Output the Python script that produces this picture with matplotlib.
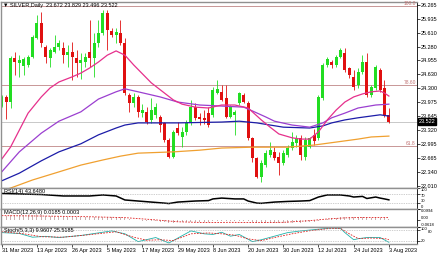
import numpy as np
import matplotlib.pyplot as plt
from matplotlib.transforms import blended_transform_factory, ScaledTranslation

# Tagesdaten SILVER (Kerzen), Index 0 = 31 Mar 2023
opens = [23.89, 24.10, 23.98, 25.01, 24.90, 24.83, 24.85, 25.04, 25.48, 25.84,
         25.27, 25.01, 25.15, 25.27, 25.25, 25.08, 25.15, 25.01, 24.90, 24.92,
         25.15, 25.01, 25.37, 25.60, 26.07, 25.65, 25.55, 25.60, 25.37, 24.14,
         23.96, 24.10, 23.72, 23.75, 23.56, 23.68, 23.63, 23.49, 23.09, 22.69,
         23.37, 23.16, 23.28, 23.49, 23.86, 23.63, 23.61, 23.72, 23.68, 24.19,
         24.22, 24.08, 23.63, 23.68, 23.96, 24.14, 23.96, 23.14, 22.67, 22.22,
         22.50, 22.74, 22.81, 22.69, 22.55, 22.74, 22.90, 23.02, 23.14, 22.69,
         22.92, 23.20, 23.14, 24.08, 24.85, 24.92, 24.85, 25.04, 25.13, 24.78,
         24.57, 24.38, 24.69, 24.92, 24.14, 24.31, 24.73, 24.31, 23.672]
highs = [24.14, 24.14, 25.06, 25.16, 25.08, 25.04, 25.08, 25.55, 26.02, 26.09,
         25.32, 25.25, 25.55, 25.44, 25.39, 25.32, 25.39, 25.20, 25.13, 25.13,
         25.91, 25.60, 25.91, 26.14, 26.14, 25.72, 25.72, 25.91, 25.48, 24.19,
         24.19, 24.14, 23.93, 23.86, 24.07, 23.96, 23.68, 23.51, 23.14, 23.32,
         23.51, 23.39, 23.56, 24.03, 23.96, 23.72, 23.79, 23.86, 24.33, 24.50,
         24.38, 24.38, 23.91, 23.79, 24.22, 24.19, 24.00, 23.16, 22.69, 22.62,
         22.85, 23.04, 22.92, 22.81, 22.85, 22.97, 23.28, 23.21, 23.21, 23.16,
         23.16, 23.35, 24.14, 24.90, 25.04, 24.97, 25.08, 25.25, 25.25, 24.80,
         24.73, 24.78, 25.08, 25.13, 24.38, 24.85, 24.78, 24.50, 23.829]
lows = [23.86, 23.58, 23.84, 24.61, 24.57, 24.61, 24.80, 25.01, 25.46, 25.27,
        24.90, 24.80, 25.13, 25.20, 24.90, 24.80, 24.50, 24.57, 24.52, 24.80,
        24.80, 24.57, 25.27, 25.55, 25.20, 25.51, 25.37, 25.32, 24.14, 23.75,
        23.86, 23.63, 23.63, 23.46, 23.49, 23.61, 23.28, 23.04, 22.67, 22.67,
        23.21, 22.92, 23.21, 23.44, 23.56, 23.44, 23.46, 23.39, 23.63, 24.17,
        24.00, 23.61, 23.61, 23.21, 23.91, 23.96, 23.09, 22.57, 22.20, 22.10,
        22.45, 22.69, 22.62, 22.27, 22.50, 22.69, 22.85, 22.92, 22.62, 22.62,
        22.90, 22.98, 23.09, 24.03, 24.80, 24.78, 24.80, 25.01, 24.69, 24.54,
        24.26, 24.31, 24.64, 24.10, 24.10, 24.26, 24.22, 23.63, 23.496]
closes = [24.10, 23.98, 25.01, 24.92, 24.97, 24.99, 25.04, 25.51, 25.84, 25.37,
          25.04, 25.20, 25.27, 25.37, 25.08, 25.15, 25.04, 24.90, 24.97, 25.04,
          25.01, 25.37, 25.60, 26.07, 25.67, 25.55, 25.62, 25.37, 24.19, 23.96,
          24.10, 23.75, 23.79, 23.51, 23.79, 23.86, 23.44, 23.09, 22.69, 23.28,
          23.25, 23.28, 23.49, 23.86, 23.61, 23.58, 23.56, 23.44, 24.26, 24.29,
          24.03, 23.63, 23.86, 23.75, 24.19, 23.98, 23.14, 22.67, 22.22, 22.55,
          22.78, 22.85, 22.67, 22.55, 22.78, 22.90, 23.04, 23.14, 22.74, 23.09,
          23.14, 23.07, 24.10, 24.85, 24.99, 24.85, 25.04, 25.20, 24.73, 24.61,
          24.33, 24.69, 24.92, 24.14, 24.33, 24.80, 24.26, 23.672, 23.522]

date_idx = [0, 8, 16, 24, 32, 40, 48, 56, 64, 72, 80, 88]
date_labels = ['31 Mar 2023', '13 Apr 2023', '26 Apr 2023', '5 May 2023', '17 May 2023',
               '29 May 2023', '8 Jun 2023', '20 Jun 2023', '30 Jun 2023', '12 Jul 2023',
               '24 Jul 2023', '3 Aug 2023']

# gleitende Durchschnitte
ma_pink_x = [0, 2, 4, 6, 9, 11, 13, 16, 18, 20, 22, 24, 26, 28, 30, 32, 34, 37, 39, 41,
             44, 47, 50, 53, 56, 59, 61, 63, 66, 68, 70, 72, 74, 76, 78, 80, 82, 84, 86, 87, 88]
ma_pink = [22.64, 22.92, 23.32, 23.72, 24.10, 24.31, 24.45, 24.57, 24.66, 24.78, 24.92,
           25.08, 25.18, 25.08, 24.85, 24.64, 24.43, 24.19, 24.03, 23.93, 23.86, 23.84,
           23.91, 23.91, 23.84, 23.56, 23.39, 23.23, 23.14, 23.11, 23.11, 23.28, 23.56,
           23.79, 23.98, 24.10, 24.17, 24.22, 24.24, 24.19, 24.12]
ma_purple_x = [0, 4, 9, 13, 18, 22, 26, 28, 31, 36, 40, 45, 49, 55, 57, 60, 62, 66, 70,
               73, 75, 78, 81, 85, 88]
ma_purple = [22.34, 22.81, 23.25, 23.53, 23.75, 24.05, 24.22, 24.29, 24.22, 24.10, 23.98,
             23.91, 23.89, 23.86, 23.77, 23.63, 23.53, 23.44, 23.39, 23.49, 23.61, 23.72,
             23.84, 23.91, 23.93]
ma_blue_x = [0, 4, 9, 13, 18, 22, 26, 28, 31, 40, 50, 54, 58, 64, 70, 73, 75, 78, 81, 86, 88]
ma_blue = [22.13, 22.31, 22.60, 22.81, 23.00, 23.21, 23.37, 23.44, 23.49, 23.49, 23.51,
           23.53, 23.49, 23.39, 23.37, 23.42, 23.49, 23.56, 23.61, 23.68, 23.65]
ma_orange_x = [0, 2, 7, 13, 18, 23, 27, 31, 39, 45, 50, 57, 65, 71, 76, 81, 84, 88]
ma_orange = [21.89, 21.96, 22.15, 22.34, 22.50, 22.62, 22.71, 22.78, 22.81, 22.85, 22.90,
             22.92, 22.92, 22.97, 23.04, 23.11, 23.16, 23.18]

fib_levels = [26.23, 24.37, 22.95]
fib_labels = ['100.0', '78.60', '61.8']
price_ticks = [26.265, 25.935, 25.610, 25.280, 24.955, 24.630, 24.300, 23.975,
               23.645, 23.320, 22.995, 22.665, 22.340, 22.010]
bid = 23.522

# RSI(14)
rsi_x = [0, 5, 9, 14, 20, 23, 26, 28, 31, 34, 37, 38, 40, 44, 47, 48, 50, 53, 55, 56,
         58, 59, 62, 65, 68, 70, 72, 74, 77, 79, 80, 82, 83, 85, 86, 87, 88]
rsi = [74, 71, 69, 62, 62, 67, 62, 43, 38, 33, 28, 26, 33, 38, 40, 48, 52, 48, 48, 38,
       28, 27, 33, 36, 38, 40, 57, 67, 67, 62, 57, 60, 50, 57, 52, 48, 43.6]

# MACD(12,26,9)
macd_hist = [0.042, 0.040, 0.044, 0.045, 0.044, 0.043, 0.042, 0.043, 0.045, 0.044,
             0.040, 0.038, 0.037, 0.036, 0.034, 0.032, 0.030, 0.028, 0.026, 0.025,
             0.026, 0.027, 0.029, 0.032, 0.031, 0.030, 0.029, 0.027, 0.018, 0.010,
             0.005, 0.000, -0.004, -0.008, -0.010, -0.012, -0.015, -0.019, -0.024, -0.022,
             -0.021, -0.021, -0.020, -0.017, -0.016, -0.016, -0.016, -0.017, -0.012, -0.008,
             -0.007, -0.009, -0.009, -0.010, -0.007, -0.006, -0.012, -0.018, -0.025, -0.028,
             -0.029, -0.029, -0.029, -0.030, -0.029, -0.027, -0.024, -0.021, -0.022, -0.020,
             -0.018, -0.017, -0.008, 0.002, 0.010, 0.015, 0.020, 0.025, 0.026, 0.026,
             0.025, 0.026, 0.028, 0.024, 0.023, 0.025, 0.023, 0.017, 0.012]
macd_sig_x = [0, 10, 20, 28, 34, 40, 46, 52, 58, 64, 70, 74, 78, 82, 86, 88]
macd_sig = [0.040, 0.036, 0.030, 0.022, 0.005, -0.015, -0.022, -0.020, -0.022, -0.020,
            -0.005, 0.010, 0.020, 0.024, 0.024, 0.022]

# Stochastik(5,3,3)
stoch_x = [0, 4, 7, 10, 13, 18, 25, 28, 31, 35, 38, 43, 46, 48, 50, 52, 54, 57, 59, 62,
           65, 68, 72, 75, 77, 78, 80, 81, 83, 86, 88]
stoch_main = [67, 62, 40, 45, 38, 50, 77, 60, 14, 38, 6, 77, 60, 56, 69, 46, 56, 14, 25,
              46, 67, 77, 87, 94, 92, 67, 25, 31, 38, 38, 10]
stoch_sig_x = [0, 5, 9, 14, 20, 26, 30, 33, 36, 39, 43, 47, 50, 53, 56, 59, 62, 66, 70,
               74, 77, 79, 81, 84, 87, 88]
stoch_sig = [72, 60, 43, 40, 55, 72, 40, 22, 25, 20, 60, 65, 60, 52, 30, 20, 38, 60, 78,
             90, 92, 60, 32, 35, 32, 25.5]

plt.rcParams['font.family'] = ['Liberation Sans', 'DejaVu Sans']

W, H = 440, 254
fig = plt.figure(figsize=(W / 100, H / 100), dpi=100)


def panel(y0, y1, lsize=4):
    ax = fig.add_axes([1 / W, 1 - y1 / H, 416 / W, (y1 - y0) / H])
    for s in ['left', 'top', 'bottom']:
        ax.spines[s].set_color('#909090')
        ax.spines[s].set_linewidth(1.0)
    ax.spines['right'].set_color('black')
    ax.spines['right'].set_linewidth(0.6)
    ax.yaxis.tick_right()
    ax.tick_params(axis='y', length=2, width=0.5, labelsize=lsize, pad=1)
    ax.set_xlim(-0.16, 94.39)
    ax.set_xticks([])
    return ax


main = panel(2, 188)
rsi_ax = panel(188, 209, 3)
macd_ax = panel(209, 227, 3)
stoch_ax = panel(227, 244, 3)

# Kerzen
idx = np.arange(len(closes))
o = np.array(opens)
c = np.array(closes)
up = c >= o
col = np.where(up, '#22dd22', '#e01010')
main.vlines(idx, lows, highs, colors=col, linewidth=0.6)
body_h = np.maximum(np.abs(c - o), 0.015)
main.bar(idx, body_h, bottom=np.minimum(o, c), width=0.7, color=col, linewidth=0)

main.plot(ma_orange_x, ma_orange, color='#f0a030', lw=0.9)
main.plot(ma_blue_x, ma_blue, color='#1c1ca8', lw=0.9)
main.plot(ma_purple_x, ma_purple, color='#9b3fd0', lw=0.9)
main.plot(ma_pink_x, ma_pink, color='#e6308c', lw=0.9)

tr = blended_transform_factory(main.transAxes, main.transData)
for lv, lb in zip(fib_levels, fib_labels):
    main.axhline(lv, color='#c89696', lw=0.7, zorder=0)
    main.text(0.997, lv, lb, transform=tr, ha='right', va='bottom', fontsize=3.5, color='#c07070')
main.axhline(bid, color='#c8c8c8', lw=0.7, zorder=0)
main.text(1.004, bid, '%.3f' % bid, transform=tr, ha='left', va='center', fontsize=4,
          color='white', bbox=dict(boxstyle='square,pad=0.15', fc='black', ec='black'), zorder=5)

main.set_ylim(21.962, 26.328)
main.set_yticks(price_ticks)
main.set_yticklabels(['%.3f' % p for p in price_ticks])
main.text(0.006, 0.992, '\u25bc SILVER,Daily  23.672 23.829 23.496 23.522', transform=main.transAxes,
          ha='left', va='top', fontsize=4, color='black')

# RSI
rsi_ax.plot(rsi_x, rsi, color='black', lw=1.1)
for lv in [30, 70]:
    rsi_ax.axhline(lv, color='#a0a0a0', lw=0.5, ls=(0, (1, 1.5)))
rsi_ax.set_ylim(0, 100)
rsi_ax.set_yticks([100, 70, 30, 0])
rsi_ax.set_yticklabels(['100', '70', '30', '0'])
rl = rsi_ax.get_yticklabels()
rl[0].set_va('top')
rl[1].set_va('top')
rl[2].set_va('bottom')
rl[3].set_va('bottom')
rsi_ax.text(0.008, 0.93, 'RSI(14) 43.6480', transform=rsi_ax.transAxes, ha='left', va='top', fontsize=4)

# MACD
macd_ax.bar(idx, macd_hist, width=0.25, color='#c8b0b0', linewidth=0)
macd_ax.plot(macd_sig_x, macd_sig, color='#e02020', lw=0.6, ls=(0, (2, 1.5)))
macd_ax.set_ylim(-0.0618, 0.0994)
macd_ax.set_yticks([0.0994, 0.0, -0.0618])
macd_ax.set_yticklabels(['0.0994', '0.00', '-0.0618'])
ml = macd_ax.get_yticklabels()
ml[0].set_va('top')
ml[1].set_va('bottom')
ml[2].set_va('bottom')
macd_ax.text(0.008, 0.93, 'MACD(12,26,9) 0.0185 0.0003', transform=macd_ax.transAxes,
             ha='left', va='top', fontsize=4)

# Stochastik
stoch_ax.plot(stoch_x, stoch_main, color='#20b2aa', lw=0.6)
stoch_ax.plot(stoch_sig_x, stoch_sig, color='#e02020', lw=0.6, ls=(0, (2, 1.5)))
for lv in [20, 80]:
    stoch_ax.axhline(lv, color='#a0a0a0', lw=0.5, ls=(0, (1, 1.5)))
stoch_ax.set_ylim(0, 100)
stoch_ax.set_yticks([100, 80, 20])
stoch_ax.set_yticklabels(['100', '80', '20'])
sl = stoch_ax.get_yticklabels()
sl[0].set_va('top')
sl[1].set_va('top')
sl[1].set_transform(sl[1].get_transform() + ScaledTranslation(0.07, 0, fig.dpi_scale_trans))
stoch_ax.text(0.008, 0.93, 'Stoch(5,3,3) 9.9607 25.5185', transform=stoch_ax.transAxes,
              ha='left', va='top', fontsize=4)

stoch_ax.set_xticks(date_idx)
stoch_ax.set_xticklabels(date_labels, ha='left')
stoch_ax.tick_params(axis='x', length=2, width=0.5, labelsize=4, pad=1)

fig.savefig('out.png', dpi=100)
